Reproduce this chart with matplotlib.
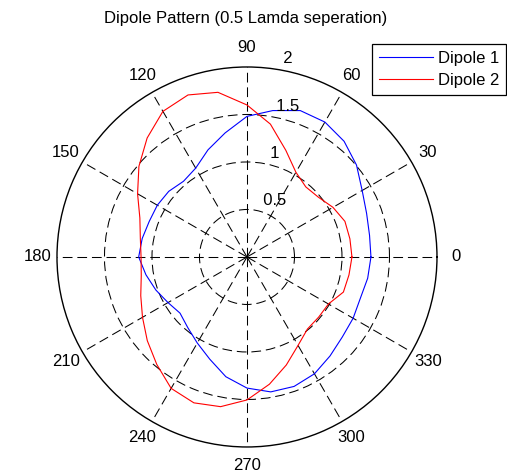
import numpy as np
import matplotlib
matplotlib.use("Agg")
import matplotlib.pyplot as plt

plt.rcParams["font.family"] = ["Liberation Sans", "DejaVu Sans"]
plt.rcParams["lines.scale_dashes"] = False

# Radiation pattern samples every 10 degrees (last point closes the loop)
angles_deg = list(range(0, 370, 10))
dipole1 = [1.305, 1.31, 1.34, 1.40, 1.505, 1.59, 1.64, 1.64, 1.565, 1.48,
           1.326, 1.20, 1.08, 1.04, 1.075, 1.09, 1.095, 1.12, 1.14, 1.08,
           1.02, 0.96, 0.92, 0.97, 1.046, 1.145, 1.28, 1.38, 1.442, 1.45,
           1.42, 1.36, 1.31, 1.29, 1.27, 1.29, 1.305]
dipole2 = [1.105, 1.10, 1.097, 1.045, 0.98, 0.963, 1.03, 1.195, 1.42, 1.60,
           1.76, 1.815, 1.77, 1.635, 1.485, 1.33, 1.20, 1.14, 1.115, 1.13,
           1.19, 1.27, 1.37, 1.477, 1.597, 1.634, 1.60, 1.505, 1.36, 1.21,
           1.075, 0.99, 0.985, 0.99, 1.08, 1.09, 1.105]
series_labels = ["Dipole 1", "Dipole 2"]
ring_values = [0.5, 1, 1.5, 2]
ring_labels = ["0.5", "1", "1.5", "2"]
spoke_angles = list(range(0, 360, 30))
spoke_labels = [str(a) for a in spoke_angles]
title = "Dipole Pattern (0.5 Lamda seperation)"
rmax = 2
fs = 12

fig = plt.figure(figsize=(5.07, 4.74), dpi=100)
fig.patch.set_facecolor("white")
ax = fig.add_axes([0.1124, 0.057, 0.7495, 0.8017], projection="polar")

theta = np.deg2rad(angles_deg)
l1, = ax.plot(theta, dipole1, color="#0000ff", lw=0.8, label=series_labels[0])
l2, = ax.plot(theta, dipole2, color="#ff0000", lw=0.8, label=series_labels[1])

ax.set_ylim(0, rmax)
ax.set_yticks(ring_values[:-1])
ax.set_yticklabels([])
ax.set_xticks(np.deg2rad(spoke_angles))
ax.set_xticklabels([])
ax.grid(True, color="black", lw=0.75, linestyle=(0, (7, 3.5)))
ax.spines["polar"].set_color("black")
ax.spines["polar"].set_linewidth(1.0)

# angle labels just outside the outer circle
for a, lab in zip(spoke_angles, spoke_labels):
    ax.text(np.deg2rad(a), rmax * 1.1, lab, ha="center", va="center",
            fontsize=fs, clip_on=False)

# ring labels along the 82 degree direction
for r, lab in zip(ring_values, ring_labels):
    ax.text(np.deg2rad(82), r + rmax / 80, "  " + lab, ha="left", va="bottom",
            fontsize=fs, clip_on=False)

fig.text(0.484, 1 - 19 / 474, title, ha="center", va="center", fontsize=fs)

leg = fig.legend(handles=[l1, l2], loc="upper right",
                 bbox_to_anchor=(506 / 507, 1 - 44 / 474), borderaxespad=0,
                 fancybox=False, framealpha=1, edgecolor="black",
                 fontsize=fs, handlelength=3.2, handletextpad=0.3,
                 labelspacing=0.42, borderpad=0.42)
leg.get_frame().set_linewidth(0.9)

fig.savefig("out.png", dpi=100)
